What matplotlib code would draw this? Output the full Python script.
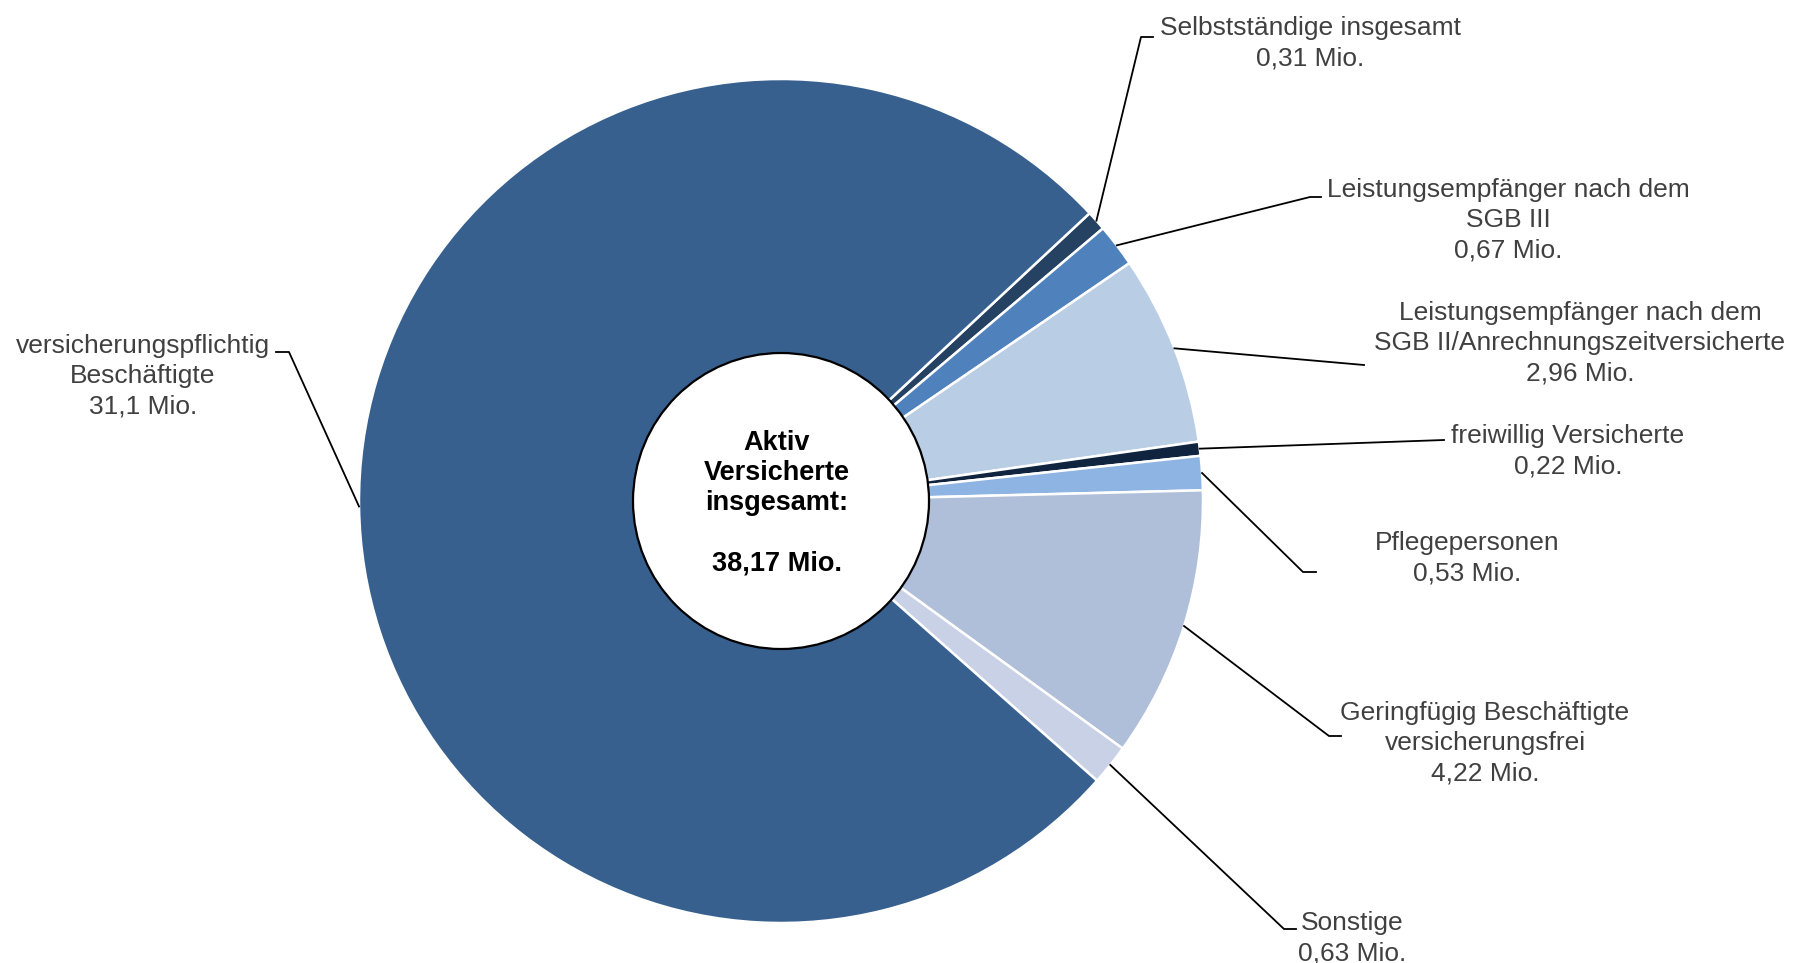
import numpy as np
import matplotlib
matplotlib.use('Agg')
import matplotlib.pyplot as plt
from matplotlib.patches import Circle

# Daten (Mio.)
labels = ['Selbstständige insgesamt\n0,31 Mio.',
          'Leistungsempfänger nach dem\nSGB III\n0,67 Mio.',
          'Leistungsempfänger nach dem\nSGB II/Anrechnungszeitversicherte\n2,96 Mio.',
          'freiwillig Versicherte\n0,22 Mio.',
          'Pflegepersonen\n0,53 Mio.',
          'Geringfügig Beschäftigte\nversicherungsfrei\n4,22 Mio.',
          'Sonstige\n0,63 Mio.',
          'versicherungspflichtig\nBeschäftigte\n31,1 Mio.']
values = [0.31, 0.67, 2.96, 0.22, 0.53, 4.22, 0.63, 31.1]
colors = ['#264263', '#4F81BD', '#B9CDE5', '#10243F', '#8EB4E3',
          '#AFBFD9', '#C8D1E5', '#37608F']
center_text = 'Aktiv\nVersicherte\ninsgesamt:\n\n38,17 Mio.'

W, H = 1794, 963
fig = plt.figure(figsize=(W / 100, H / 100), dpi=100)
ax = fig.add_axes([0, 0, 1, 1])

cx, cy, R, r_in = 781, H - 501, 422, 148

wedges, _ = ax.pie(values, colors=colors, startangle=43, counterclock=False,
                   center=(cx, cy), radius=R, frame=True,
                   wedgeprops=dict(edgecolor='white', linewidth=1.8))
ax.set_xlim(0, W)
ax.set_ylim(0, H)
ax.set_aspect('equal')
ax.axis('off')

ax.add_patch(Circle((cx, cy), r_in, facecolor='white', edgecolor='black',
                    linewidth=1.6, zorder=5))
ax.text(cx - 4, cy - 2, center_text, ha='center', va='center', fontsize=19.5,
        fontweight='bold', family=['Liberation Sans', 'DejaVu Sans'],
        linespacing=1.2, zorder=6)

# Layout: Knickpunkt, Linienende, Textmitte (Pixel, y von oben)
layout = [
    ((1141, 37), (1153, 37), (1310, 43)),
    ((1310, 197), (1321, 197), (1508, 220)),
    (None, (1364, 365), (1580, 343)),
    (None, (1444, 440), (1568, 451)),
    ((1303, 572), (1316, 572), (1467, 558)),
    ((1329, 736), (1341, 736), (1485, 743)),
    ((1284, 929), (1296, 929), (1352, 938)),
    ((289, 352), (276, 352), (143, 376)),
]

font = ['Liberation Sans Narrow', 'Liberation Sans', 'DejaVu Sans']
for w, lab, (knee, end, txt) in zip(wedges, labels, layout):
    th = np.deg2rad((w.theta1 + w.theta2) / 2)
    pts = [(cx + R * np.cos(th), cy + R * np.sin(th))]
    if knee is not None:
        pts.append((knee[0], H - knee[1]))
    pts.append((end[0], H - end[1]))
    xs, ys = zip(*pts)
    ax.plot(xs, ys, color='black', linewidth=1.3, zorder=4)
    ax.text(txt[0], H - txt[1], lab, ha='center', va='center', fontsize=19,
            color='#404040', family=font, linespacing=1.33)

fig.savefig('out.png', dpi=100)
